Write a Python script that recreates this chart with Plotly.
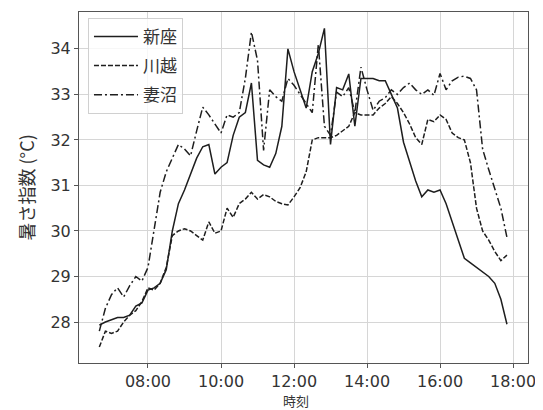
import plotly.graph_objects as go

times = [
    "06:40", "06:50",
    "07:00", "07:10", "07:20", "07:30", "07:40", "07:50",
    "08:00", "08:10", "08:20", "08:30", "08:40", "08:50",
    "09:00", "09:10", "09:20", "09:30", "09:40", "09:50",
    "10:00", "10:10", "10:20", "10:30", "10:40", "10:50",
    "11:00", "11:10", "11:20", "11:30", "11:40", "11:50",
    "12:00", "12:10", "12:20", "12:30", "12:40", "12:50",
    "13:00", "13:10", "13:20", "13:30", "13:40", "13:50",
    "14:00", "14:10", "14:20", "14:30", "14:40", "14:50",
    "15:00", "15:10", "15:20", "15:30", "15:40", "15:50",
    "16:00", "16:10", "16:20", "16:30", "16:40", "16:50",
    "17:00", "17:10", "17:20", "17:30", "17:40", "17:50",
]

niiza = [
    27.93, 28.0,
    28.05, 28.1, 28.1, 28.15, 28.35, 28.42,
    28.7, 28.75, 28.85, 29.15, 30.0, 30.6,
    30.9, 31.25, 31.6, 31.85, 31.9, 31.25,
    31.4, 31.5, 32.1, 32.5, 32.6, 33.25,
    31.55, 31.45, 31.4, 31.7, 32.3, 34.0,
    33.5, 33.1, 32.7, 33.5, 33.9, 34.45,
    31.9, 33.15, 33.1, 33.45, 32.3, 33.35,
    33.35, 33.35, 33.3, 33.3, 33.0, 32.7,
    31.95, 31.5, 31.1, 30.75, 30.9, 30.85,
    30.9, 30.6, 30.2, 29.75, 29.4, 29.3,
    29.2, 29.1, 29.0, 28.85, 28.5, 27.95,
]

kawagoe = [
    27.45, 27.8,
    27.75, 27.8, 28.0, 28.15, 28.25, 28.45,
    28.75, 28.7, 28.85, 29.2, 29.9, 30.0,
    30.05, 30.0, 29.9, 29.8, 30.2, 29.95,
    30.0, 30.5, 30.3, 30.6, 30.7, 30.85,
    30.7, 30.8, 30.75, 30.65, 30.6, 30.57,
    30.75, 30.95, 31.3, 32.0, 32.05, 32.05,
    32.05, 32.1, 32.2, 32.3, 32.6, 32.55,
    32.55, 32.55, 32.7, 32.8, 32.95, 32.8,
    32.6, 32.35, 32.05, 31.9, 32.45, 32.4,
    32.55, 32.45, 32.15, 32.05, 32.0, 31.5,
    30.5, 30.0, 29.8, 29.55, 29.35, 29.47,
]

menuma = [
    27.8, 28.3,
    28.6, 28.75, 28.55, 28.8, 29.0, 28.9,
    29.2, 30.0, 30.85, 31.3, 31.6, 31.9,
    31.8, 31.65, 32.2, 32.72, 32.55, 32.35,
    32.15, 32.55, 32.5, 32.6, 33.35, 34.37,
    33.75, 31.77, 33.1, 32.95, 32.85, 33.35,
    33.2, 33.0, 32.8, 32.6, 34.1, 32.3,
    32.1, 33.05, 32.95, 33.15, 32.6, 33.6,
    33.1, 32.65, 32.85, 32.93, 33.1, 33.0,
    33.15, 33.25, 33.1, 33.0, 33.1, 32.98,
    33.46, 33.1, 33.3, 33.38, 33.4, 33.35,
    33.1, 31.8, 31.35, 30.95, 30.5, 29.86,
]

x_ticks = ["08:00", "10:00", "12:00", "14:00", "16:00", "18:00"]
y_ticks = [28, 29, 30, 31, 32, 33, 34]

day = "2023-08-01 "
xs = [day + t for t in times]

series = [
    ("新座", niiza, "solid"),
    ("川越", kawagoe, "5px,2px"),
    ("妻沼", menuma, "8px,3px,2px,3px"),
]

fig = go.Figure()
for i, (name, vals, dash) in enumerate(series):
    fig.add_trace(go.Scatter(
        x=xs, y=vals, name=name, mode="lines",
        line=dict(color="#1e1e1e", width=1.5, dash=dash),
        legendgroup=str(i),
    ))

jp = "Noto Sans CJK JP"
tickfont = dict(family="DejaVu Sans", size=16, color="#333333")

# The page body has an 8px margin, so the figure is 8px smaller than the window.
fig.update_layout(
    width=535, height=402,
    margin=dict(l=71, r=15, t=4, b=47),
    paper_bgcolor="white", plot_bgcolor="white",
    showlegend=True,
    legend=dict(
        x=0.02, y=0.983, xanchor="left", yanchor="top",
        bgcolor="rgba(255,255,255,0.8)", bordercolor="#d0d0d0", borderwidth=1,
        font=dict(family=jp, size=17, color="#333333"),
        itemwidth=44, traceorder="grouped", tracegroupgap=4,
    ),
    xaxis=dict(
        type="date",
        range=[day + "06:06:36", day + "18:24:36"],
        tickvals=[day + t for t in x_ticks], ticktext=x_ticks,
        showgrid=True, gridcolor="#d6d6d6", gridwidth=1,
        showline=True, linecolor="#555555", linewidth=1, mirror=True,
        ticks="outside", ticklen=4, tickcolor="#555555",
        tickfont=tickfont, zeroline=False,
    ),
    yaxis=dict(
        range=[27.1, 34.81],
        tickvals=y_ticks,
        showgrid=True, gridcolor="#d6d6d6", gridwidth=1,
        showline=True, linecolor="#555555", linewidth=1, mirror=True,
        ticks="outside", ticklen=4, tickcolor="#555555",
        tickfont=tickfont, zeroline=False,
    ),
    annotations=[
        dict(text="時刻", xref="paper", yref="paper", x=0.483, y=-0.075,
             xanchor="center", yanchor="top", showarrow=False,
             font=dict(family=jp, size=13, color="#333333")),
        dict(text="暑さ指数 (°C)", xref="paper", yref="paper", x=-0.12, y=0.5,
             xanchor="center", yanchor="middle", showarrow=False, textangle=-90,
             font=dict(family=jp, size=18, color="#333333")),
    ],
)

fig.write_html("out.html")
